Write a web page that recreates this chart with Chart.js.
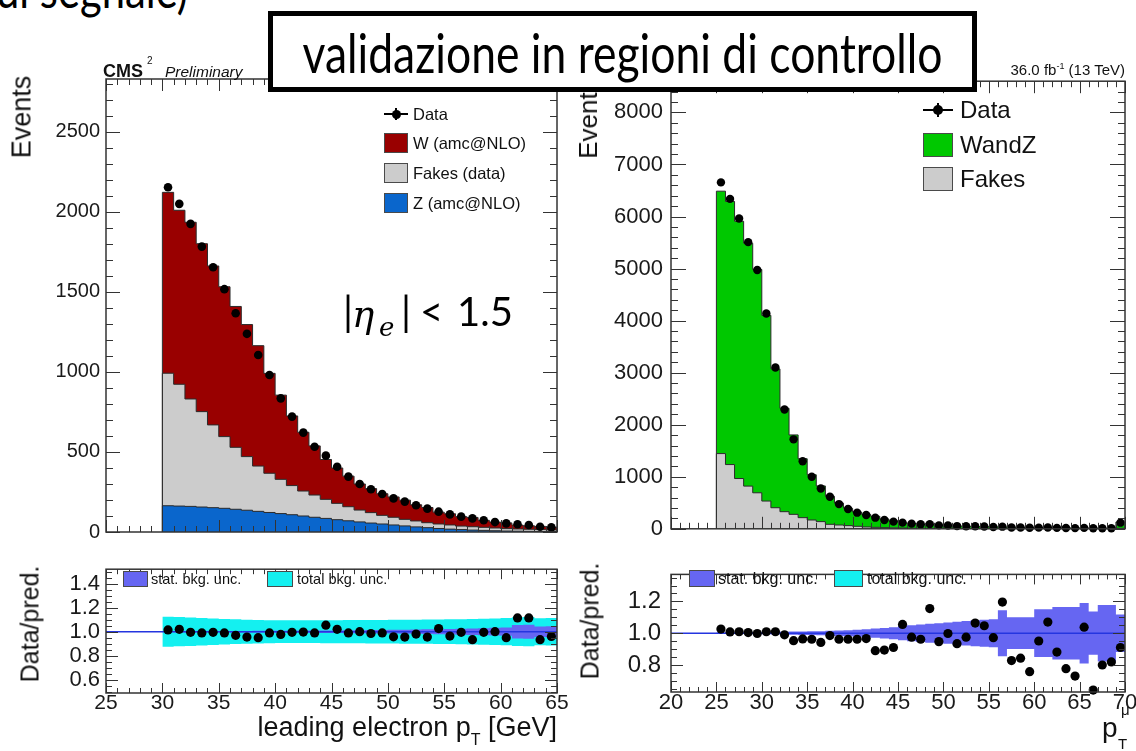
<!DOCTYPE html>
<html lang="it">
<head>
<meta charset="utf-8">
<title>validazione in regioni di controllo</title>
<script src="https://cdn.jsdelivr.net/npm/chart.js@4.4.1/dist/chart.umd.min.js"></script>
<style>
  html, body { margin: 0; padding: 0; background: #fff; }
  body { position: relative; width: 1136px; height: 751px; overflow: hidden;
         font-family: "Liberation Sans", Arial, sans-serif; color: #111; }
  canvas { position: absolute; display: block; }
  .t { position: absolute; white-space: nowrap; line-height: 1; }
  .rot { transform: translate(-50%, -50%) rotate(-90deg); }
  .sw { position: absolute; box-sizing: border-box; border: 1px solid #4a4a4a; }
  .slide { font-family: Lato, "Open Sans", sans-serif; color: #000; }
  .math { font-family: "DejaVu Serif", serif; font-style: italic; color: #000; }
  #titleBox { position: absolute; left: 268px; top: 11px; width: 709px; height: 81px;
              box-sizing: border-box; border: 5px solid #000; background: #fff; z-index: 5;
              display: flex; align-items: center; justify-content: center; }
  #titleText { position: static; display: inline-block; transform: scaleY(1.22); margin-top: 2px; }
  #prevLine { transform: scaleY(1.22); transform-origin: 0 100%; }
  .mk-line { position: absolute; height: 2px; background: #000; }
  .mk-dot { position: absolute; border-radius: 50%; background: #000; }
</style>
</head>
<body>

<canvas id="elMain" width="580" height="490" style="left:0;top:60px"></canvas>
<canvas id="elRatio" width="580" height="201" style="left:0;top:550px"></canvas>
<canvas id="muMain" width="576" height="490" style="left:580px;top:60px"></canvas>
<canvas id="muRatio" width="576" height="201" style="left:580px;top:550px"></canvas>

<!-- slide text above the plots -->
<div class="t slide" id="prevLine" style="left:-4px;top:-27px;font-size:44px">ul segnale)</div>
<div id="titleBox"><span class="t slide" id="titleText" style="font-size:44px">validazione in regioni di controllo</span></div>

<!-- CMS labels -->
<div class="t" style="left:103px;top:62px;font-size:18px;font-weight:bold">CMS</div>
<div class="t" style="left:147px;top:56px;font-size:10px">2</div>
<div class="t" style="left:165px;top:64px;font-size:15.5px;font-style:italic">Preliminary</div>
<div class="t" style="right:11px;top:62px;font-size:15px">36.0 fb<span style="font-size:9px;position:relative;top:-6px">-1</span> (13 TeV)</div>

<!-- axis titles -->
<div class="t rot" style="left:22px;top:117px;font-size:27px">Events</div>
<div class="t rot" style="left:588px;top:119px;font-size:26px">Events</div>
<div class="t rot" style="left:30px;top:624px;font-size:25px">Data/pred.</div>
<div class="t rot" style="left:590px;top:621px;font-size:25px">Data/pred.</div>
<div class="t" style="right:579px;top:714px;font-size:27px">leading electron p<span style="font-size:16px;position:relative;top:9px">T</span> [GeV]</div>
<div class="t" style="left:1102px;top:714px;font-size:28px">p</div>
<div class="t" style="left:1121px;top:702px;font-size:15px">&mu;</div>
<div class="t" style="left:1118px;top:736px;font-size:15px">T</div>

<!-- electron legend -->
<div class="mk-line" style="left:384px;top:113px;width:24px"></div>
<div class="mk-line" style="left:395px;top:108px;width:2px;height:12px"></div>
<div class="mk-dot" style="left:391.5px;top:109.5px;width:9px;height:9px"></div>
<div class="t" style="left:413px;top:106px;font-size:16.5px">Data</div>
<div class="sw" style="left:384px;top:133px;width:24px;height:20px;background:#990000"></div>
<div class="t" style="left:413px;top:135px;font-size:16.5px">W (amc@NLO)</div>
<div class="sw" style="left:384px;top:163px;width:24px;height:20px;background:#cccccc"></div>
<div class="t" style="left:413px;top:165px;font-size:16.5px">Fakes (data)</div>
<div class="sw" style="left:384px;top:193px;width:24px;height:20px;background:#0a66cc"></div>
<div class="t" style="left:413px;top:195px;font-size:16.5px">Z (amc@NLO)</div>

<!-- muon legend -->
<div class="mk-line" style="left:923px;top:109px;width:30px"></div>
<div class="mk-line" style="left:937px;top:103px;width:2px;height:14px"></div>
<div class="mk-dot" style="left:933px;top:105px;width:10px;height:10px"></div>
<div class="t" style="left:960px;top:98px;font-size:24px">Data</div>
<div class="sw" style="left:923px;top:133px;width:30px;height:24px;background:#00c800"></div>
<div class="t" style="left:960px;top:133px;font-size:24px">WandZ</div>
<div class="sw" style="left:923px;top:167px;width:30px;height:24px;background:#cccccc"></div>
<div class="t" style="left:960px;top:167px;font-size:24px">Fakes</div>

<!-- ratio legends -->
<div class="sw" style="left:123px;top:571px;width:25px;height:16px;background:#6666f2"></div>
<div class="t" style="left:151px;top:572px;font-size:14.5px">stat. bkg. unc.</div>
<div class="sw" style="left:267px;top:571px;width:26px;height:16px;background:#14f0f0"></div>
<div class="t" style="left:297px;top:572px;font-size:14.5px">total bkg. unc.</div>
<div class="sw" style="left:689px;top:570px;width:26px;height:17px;background:#6666f2"></div>
<div class="t" style="left:718px;top:571px;font-size:16px">stat. bkg. unc.</div>
<div class="sw" style="left:834px;top:570px;width:29px;height:17px;background:#14f0f0"></div>
<div class="t" style="left:867px;top:571px;font-size:16px">total bkg. unc.</div>

<!-- selection label -->
<div class="t slide" style="left:343px;top:291px;font-size:40px">|</div>
<div class="t math" style="left:352px;top:296px;font-size:37px">&eta;</div>
<div class="t math" style="left:379px;top:314px;font-size:26px">e</div>
<div class="t slide" style="left:401px;top:291px;font-size:40px">|</div>
<div class="t slide" style="left:420px;top:291px;font-size:40px">&lt;</div>
<div class="t slide" style="left:457px;top:291px;font-size:40px">1.5</div>

<script>
// ---- electron channel, |eta| < 1.5, 1 GeV bins ----
const elEdges = [30, 31, 32, 33, 34, 35, 36, 37, 38, 39, 40, 41, 42, 43, 44, 45, 46, 47, 48,
                 49, 50, 51, 52, 53, 54, 55, 56, 57, 58, 59, 60, 61, 62, 63, 64, 65];
const elData  = [2154, 2050, 1925, 1783, 1654, 1517, 1367, 1238, 1106, 981, 835, 721, 621, 533,
                 477, 408, 346, 300, 267, 237, 210, 190, 167, 146, 127, 110, 96, 85, 73, 62,
                 54, 48, 44, 33, 29];
const elW     = [1130, 1087, 1104, 1049, 993, 936, 880, 825, 752, 624, 526, 435, 367, 307, 249,
                 221, 191, 163, 150, 135, 127, 120, 101, 95, 74, 70, 59, 58, 44, 37, 36, 24,
                 22, 20, 17];
const elFakes = [828, 761, 671, 596, 517, 448, 387, 335, 283, 245, 214, 182, 156, 139, 119, 102,
                 88, 74, 65, 54, 48, 41, 37, 31, 28, 26, 22, 21, 19, 17, 15, 14, 13, 12, 10];
const elZ     = [164, 162, 160, 156, 152, 148, 142, 136, 129, 122, 115, 108, 100, 92, 85, 77, 70,
                 63, 56, 50, 44, 38, 32, 27, 22, 18, 15, 12, 10, 8, 6, 5, 4, 3, 3];
const elRatio = [1.015, 1.02, 0.995, 0.99, 0.995, 0.99, 0.97, 0.955, 0.95, 0.99, 0.977, 0.995,
                 0.997, 0.99, 1.054, 1.02, 0.99, 1.0, 0.985, 0.99, 0.957, 0.955, 0.98, 0.955,
                 1.026, 0.964, 0.995, 0.934, 0.995, 1.0, 0.95, 1.115, 1.115, 0.934, 0.96];
const elStat  = [0.004, 0.004, 0.004, 0.005, 0.005, 0.005, 0.006, 0.006, 0.007, 0.007, 0.008,
                 0.008, 0.009, 0.010, 0.010, 0.011, 0.012, 0.013, 0.014, 0.015, 0.016, 0.017,
                 0.018, 0.020, 0.021, 0.023, 0.025, 0.027, 0.029, 0.032, 0.034, 0.056, 0.058,
                 0.044, 0.046];
const elTotal = [0.125, 0.122, 0.118, 0.114, 0.110, 0.106, 0.103, 0.100, 0.098, 0.096, 0.095,
                 0.095, 0.095, 0.095, 0.096, 0.096, 0.097, 0.097, 0.098, 0.098, 0.099, 0.100,
                 0.100, 0.101, 0.102, 0.103, 0.104, 0.106, 0.108, 0.110, 0.113, 0.120, 0.122,
                 0.112, 0.115];

// ---- muon channel, 1 GeV bins ----
const muEdges = [25, 26, 27, 28, 29, 30, 31, 32, 33, 34, 35, 36, 37, 38, 39, 40, 41, 42, 43, 44,
                 45, 46, 47, 48, 49, 50, 51, 52, 53, 54, 55, 56, 57, 58, 59, 60, 61, 62, 63, 64,
                 65, 66, 67, 68, 69, 70];
const muData  = [6656, 6339, 5962, 5508, 4972, 4138, 3100, 2293, 1719, 1298, 999, 775, 616, 475,
                 379, 310, 264, 214, 168, 138, 119, 99, 86, 90, 66, 62, 52, 49, 48, 43, 36, 41,
                 26, 24, 20, 23, 24, 18, 15, 13, 18, 10, 12, 12, 118];
const muWZ    = [5042, 5055, 4943, 4666, 4290, 3568, 2667, 1987, 1526, 1132, 869, 685, 539, 421,
                 333, 274, 238, 212, 166, 134, 98, 90, 79, 69, 62, 55, 50, 44, 40, 36, 33, 30,
                 27, 25, 23, 21, 19, 18, 17, 16, 15, 14, 13, 13, 120];
const muFakes = [1445, 1234, 966, 820, 692, 533, 405, 329, 278, 214, 169, 138, 86, 73, 61, 48, 35,
                 28, 22, 18, 15, 12, 10, 9, 8, 7, 6, 6, 5, 5, 4, 4, 4, 3, 3, 3, 3, 2, 2, 2, 2,
                 2, 2, 2, 10];
const muRatio = [1.026, 1.008, 1.009, 1.004, 0.998, 1.009, 1.009, 0.99, 0.953, 0.964, 0.962,
                 0.942, 0.985, 0.962, 0.962, 0.962, 0.966, 0.89, 0.894, 0.91, 1.055, 0.975,
                 0.962, 1.155, 0.947, 0.998, 0.934, 0.975, 1.064, 1.047, 0.972, 1.196, 0.828,
                 0.843, 0.758, 0.951, 1.07, 0.881, 0.777, 0.73, 1.038, 0.642, 0.80, 0.819, 0.91];
const muStat  = [0.004, 0.004, 0.005, 0.005, 0.006, 0.007, 0.008, 0.009, 0.010, 0.011, 0.012,
                 0.013, 0.015, 0.017, 0.019, 0.022, 0.025, 0.029, 0.033, 0.038, 0.045, 0.050,
                 0.055, 0.060, 0.063, 0.067, 0.072, 0.077, 0.082, 0.085, 0.088, 0.145, 0.100,
                 0.100, 0.100, 0.150, 0.150, 0.165, 0.165, 0.165, 0.190, 0.136, 0.178, 0.178,
                 0.118];

// ---- axis ticks ----
const elYTicks    = [0, 500, 1000, 1500, 2000, 2500];
const muYTicks    = [0, 1000, 2000, 3000, 4000, 5000, 6000, 7000, 8000];
const elRatioY    = [0.6, 0.8, 1.0, 1.2, 1.4];
const muRatioY    = [0.8, 1.0, 1.2];
const elXTicks    = [25, 30, 35, 40, 45, 50, 55, 60, 65];
const muXTicks    = [20, 25, 30, 35, 40, 45, 50, 55, 60, 65, 70];

const COL = {
  w: '#990000', fakes: '#cccccc', z: '#0a66cc', wz: '#00c800',
  stat: '#6666f2', total: '#14f0f0', unity: '#2435e0', edge: '#2a2a2a'
};

const cumulate = (...parts) => parts[0].map((_, i) => parts.reduce((s, p) => s + p[i], 0));
const centers = e => e.slice(0, -1).map((v, i) => (v + e[i + 1]) / 2);

// step outline of a histogram, closed down to zero at both ends;
// each point's value is held until the next point ('before' stepping)
function histLine(edges, vals) {
  const n = vals.length;
  const pts = [{ x: edges[0], y: 0 }];
  vals.forEach((v, i) => pts.push({ x: edges[i], y: v }));
  pts.push({ x: edges[n], y: vals[n - 1] }, { x: edges[n], y: 0 });
  return pts;
}

function bandLine(edges, errs, sign) {
  const n = errs.length;
  const pts = errs.map((e, i) => ({ x: edges[i], y: 1 + sign * e }));
  pts.push({ x: edges[n], y: 1 + sign * errs[n - 1] });
  return pts;
}

const histo = (pts, color) => ({
  data: pts, stepped: 'before', fill: 'origin', backgroundColor: color,
  borderColor: COL.edge, borderWidth: 1, pointRadius: 0
});
const markers = (xs, ys, r) => ({
  data: xs.map((x, i) => ({ x, y: ys[i] })), showLine: false, clip: false,
  pointRadius: r, pointBackgroundColor: '#000', pointBorderColor: '#000', pointBorderWidth: 0
});
const band = (edges, errs, color) => ([
  { data: bandLine(edges, errs, +1), stepped: 'before', fill: '+1', backgroundColor: color,
    borderColor: 'transparent', borderWidth: 0, pointRadius: 0 },
  { data: bandLine(edges, errs, -1), stepped: 'before', fill: false,
    borderColor: 'transparent', borderWidth: 0, pointRadius: 0 }
]);
const unity = (lo, hi) => ({
  data: [{ x: lo, y: 1 }, { x: hi, y: 1 }], borderColor: COL.unity, borderWidth: 1.5,
  pointRadius: 0, fill: false
});

// ROOT-like frame: ticks pointing inwards on all four sides
const rootFrame = {
  id: 'rootFrame',
  afterDatasetsDraw(chart, args, o) {
    const { ctx, chartArea: a, scales: { x, y } } = chart;
    const each = (lo, hi, step, fn) => {
      for (let k = Math.ceil(lo / step - 1e-6); k * step <= hi + 1e-6; k++) fn(k * step);
    };
    ctx.save();
    ctx.strokeStyle = '#333';
    ctx.lineWidth = 1;
    ctx.beginPath();
    [[o.xMinor, o.xLen[1]], [o.xMajor, o.xLen[0]]].forEach(([step, len]) => {
      each(x.min, x.max, step, v => {
        const px = Math.round(x.getPixelForValue(v)) + 0.5;
        ctx.moveTo(px, a.bottom); ctx.lineTo(px, a.bottom - len);
        ctx.moveTo(px, a.top); ctx.lineTo(px, a.top + len);
      });
    });
    [[o.yMinor, o.yLen[1]], [o.yMajor, o.yLen[0]]].forEach(([step, len]) => {
      each(y.min, y.max, step, v => {
        const py = Math.round(y.getPixelForValue(v)) + 0.5;
        ctx.moveTo(a.left, py); ctx.lineTo(a.left + len, py);
        ctx.moveTo(a.right, py); ctx.lineTo(a.right - len, py);
      });
    });
    ctx.stroke();
    ctx.lineWidth = 1.5;
    ctx.strokeRect(a.left, a.top, a.width, a.height);
    ctx.restore();
  }
};

function panel(id, c) {
  return new Chart(document.getElementById(id), {
    type: 'line',
    data: { datasets: c.datasets },
    options: {
      responsive: false,
      animation: false,
      layout: { padding: c.pad },
      plugins: { legend: { display: false }, tooltip: { enabled: false }, rootFrame: c.frame },
      scales: {
        x: {
          type: 'linear', min: c.x[0], max: c.x[1], display: !!c.xTicks,
          grid: { display: false, drawTicks: false }, border: { display: false },
          afterBuildTicks: s => { if (c.xTicks) s.ticks = c.xTicks.map(v => ({ value: v })); },
          afterFit: s => { s.height = c.xH || 0; },
          ticks: { autoSkip: false, maxRotation: 0, padding: 0, color: '#1a1a1a',
                   font: { size: c.xFont, lineHeight: 1 }, callback: v => String(v) }
        },
        y: {
          type: 'linear', min: c.y[0], max: c.y[1],
          grid: { display: false, drawTicks: false }, border: { display: false },
          afterBuildTicks: s => { s.ticks = c.yTicks.map(v => ({ value: v })); },
          afterFit: s => { s.width = c.yW; },
          ticks: { autoSkip: false, padding: c.yPad, color: '#1a1a1a',
                   font: { size: c.yFont }, callback: c.yFmt }
        }
      }
    },
    plugins: [rootFrame]
  });
}

Chart.defaults.font.family = '"Liberation Sans", Arial, sans-serif';

panel('elMain', {
  pad: { top: 19, right: 23, bottom: 18, left: 0 },
  x: [25, 65], y: [0, 2830], yTicks: elYTicks, yW: 106, yPad: 6, yFont: 20,
  yFmt: v => String(v),
  frame: { xMajor: 5, xMinor: 1, xLen: [12, 6], yMajor: 500, yMinor: 100, yLen: [14, 7] },
  datasets: [
    markers(centers(elEdges), elData, 4.3),
    histo(histLine(elEdges, elZ), COL.z),
    histo(histLine(elEdges, cumulate(elZ, elFakes)), COL.fakes),
    histo(histLine(elEdges, cumulate(elZ, elFakes, elW)), COL.w)
  ]
});

panel('elRatio', {
  pad: { top: 9, right: 23, bottom: 18, left: 0 },
  x: [25, 65], xTicks: elXTicks, xH: 40, xFont: 21,
  y: [0.49, 1.52], yTicks: elRatioY, yW: 106, yPad: 6, yFont: 22,
  yFmt: v => v.toFixed(1),
  frame: { xMajor: 5, xMinor: 1, xLen: [10, 5], yMajor: 0.2, yMinor: 0.05, yLen: [12, 6] },
  datasets: [
    markers(centers(elEdges), elRatio, 4.6),
    unity(25, 65),
    ...band(elEdges, elStat, COL.stat),
    ...band(elEdges, elTotal, COL.total)
  ]
});

panel('muMain', {
  pad: { top: 21, right: 31, bottom: 20, left: 0 },
  x: [20, 70], y: [0, 8600], yTicks: muYTicks, yW: 91, yPad: 8, yFont: 22,
  yFmt: v => String(v),
  frame: { xMajor: 5, xMinor: 1, xLen: [12, 6], yMajor: 1000, yMinor: 200, yLen: [15, 7] },
  datasets: [
    markers(centers(muEdges), muData, 4.2),
    histo(histLine(muEdges, muFakes), COL.fakes),
    histo(histLine(muEdges, cumulate(muFakes, muWZ)), COL.wz)
  ]
});

panel('muRatio', {
  pad: { top: 9, right: 31, bottom: 18, left: 0 },
  x: [20, 70], xTicks: muXTicks, xH: 41, xFont: 22,
  y: [0.63, 1.37], yTicks: muRatioY, yW: 91, yPad: 10, yFont: 24,
  yFmt: v => v.toFixed(1),
  frame: { xMajor: 5, xMinor: 1, xLen: [10, 5], yMajor: 0.2, yMinor: 0.05, yLen: [12, 6] },
  datasets: [
    markers(centers(muEdges), muRatio, 4.6),
    unity(20, 70),
    ...band(muEdges, muStat, COL.stat)
  ]
});

// slide text sized to its measured width
function fitWidth(el, target) {
  const w = el.getBoundingClientRect().width;
  const fs = parseFloat(getComputedStyle(el).fontSize);
  el.style.fontSize = (fs * target / w).toFixed(2) + 'px';
}
fitWidth(document.getElementById('titleText'), 640);
fitWidth(document.getElementById('prevLine'), 192);
</script>
</body>
</html>
